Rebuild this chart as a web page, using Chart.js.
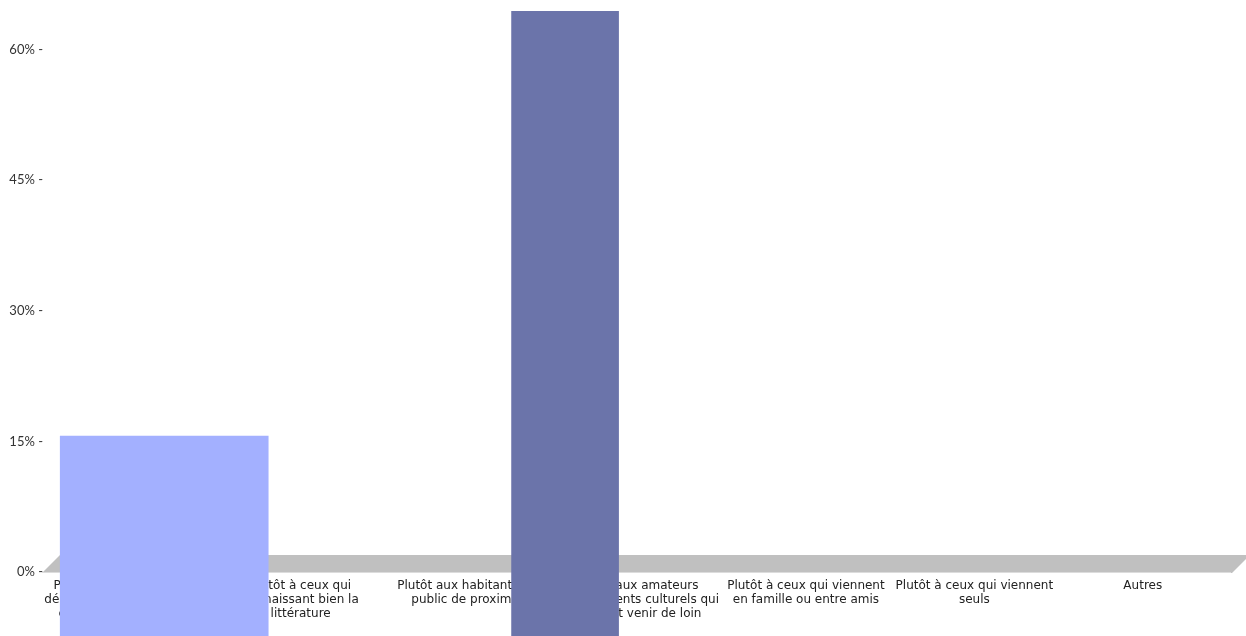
<!DOCTYPE html>
<html>
<head>
<meta charset="utf-8">
<script src="https://cdn.jsdelivr.net/npm/chart.js@4/dist/chart.umd.min.js"></script>
<style>
  html, body { margin: 0; padding: 0; background: #fff; }
  #wrap { width: 1246px; height: 636px; }
</style>
</head>
<body>
<div id="wrap"><canvas id="chart" width="1246" height="636"></canvas></div>
<script>
// Données du graphique
const categories = [
  ["Plutôt aux néophytes, aux", "débutants, aux publics plutôt", "éloignés de la littérature"],
  ["Plutôt à ceux qui", "connaissant bien la", "littérature"],
  ["Plutôt aux habitants, au", "public de proximité"],
  ["Plutôt aux amateurs", "d'événements culturels qui", "peuvent venir de loin"],
  ["Plutôt à ceux qui viennent", "en famille ou entre amis"],
  ["Plutôt à ceux qui viennent", "seuls"],
  ["Autres"],
];
const barValues = [15.6, 64.4];      // en %
const barSlots = [0.19, 2.57];       // emplacement des barres sur l'axe des catégories
const barBase = -7.5;                // les barres descendent sous la ligne 0%
const yTicks = [0, 15, 30, 45, 60];
const yMax = 65;

const barColors = ["#a3b0ff", "#6b74aa"];
const barWidths = [208, 107];

// Plancher gris façon 3D
const floorPlugin = {
  id: "floor",
  beforeDatasetsDraw(chart) {
    const { ctx, chartArea } = chart;
    const y0 = chart.scales.y.getPixelForValue(0);
    const l = chartArea.left;
    const r = chartArea.right;
    ctx.save();
    ctx.fillStyle = "#c0c0c0";
    ctx.beginPath();
    ctx.moveTo(l - 6, y0 + 1);
    ctx.lineTo(l + 12, y0 - 17);
    ctx.lineTo(r + 23, y0 - 17);
    ctx.lineTo(r + 5, y0 + 1);
    ctx.closePath();
    ctx.fill();
    ctx.fillStyle = "#dcdcdc";
    ctx.fillRect(l - 5, y0, r - l + 9, 1);
    ctx.restore();
  },
};

const datasets = barValues.map((v, i) => ({
  label: "Série " + (i + 1),
  data: [{ x: barSlots[i], y: v }],
  xAxisID: "xb",
  backgroundColor: barColors[i],
  borderWidth: 0,
  barThickness: barWidths[i],
  grouped: false,
  base: barBase,
  clip: false,
}));

new Chart(document.getElementById("chart"), {
  type: "bar",
  data: { labels: categories, datasets: datasets },
  plugins: [floorPlugin],
  options: {
    responsive: false,
    animation: false,
    layout: { padding: { top: 6, right: 19, left: 0, bottom: 0 } },
    plugins: {
      legend: { display: false },
      tooltip: { enabled: false },
    },
    scales: {
      x: {
        type: "category",
        offset: true,
        grid: { display: false, drawTicks: false },
        border: { display: false },
        ticks: {
          autoSkip: false,
          maxRotation: 0,
          padding: 7,
          color: "#222",
          font: { family: "DejaVu Sans", size: 12, lineHeight: 1.17 },
        },
        afterFit(scale) { scale.height = 64; },
      },
      xb: {
        type: "linear",
        display: false,
        offset: false,
        min: -0.5,
        max: 6.5,
      },
      y: {
        min: 0,
        max: yMax,
        grid: { display: false, drawTicks: false },
        border: { display: false },
        afterBuildTicks(scale) {
          scale.ticks = yTicks.map((v) => ({ value: v }));
        },
        ticks: {
          padding: 5,
          color: "#333",
          font: { family: "Lato", size: 13 },
          callback: (v) => v + "% -",
        },
        afterFit(scale) {
          scale.width = 48;
          scale.paddingTop = 0;
          scale.paddingBottom = 0;
        },
      },
    },
  },
});
</script>
</body>
</html>
